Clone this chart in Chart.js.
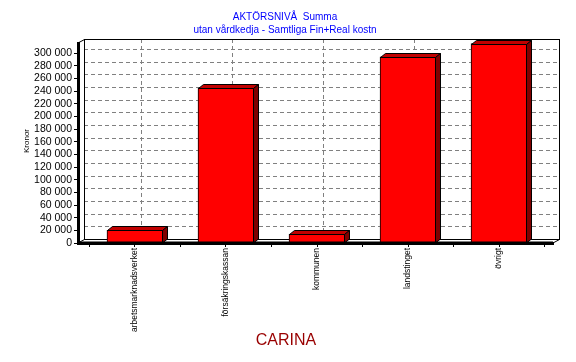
<!DOCTYPE html>
<html>
<head>
<meta charset="utf-8">
<script src="https://cdn.jsdelivr.net/npm/chart.js@4.4.0/dist/chart.umd.min.js"></script>
<style>
  html, body { margin: 0; padding: 0; background: #fff; }
</style>
</head>
<body>
<canvas id="chart" width="576" height="362"></canvas>
<script>
const titleLines = ['AKTÖRSNIVÅ  Summa', 'utan vårdkedja - Samtliga Fin+Real kostn'];
const footerText = 'CARINA';
const yAxisTitle = 'Kronor';
const categories = ['arbetsmarknadsverket', 'försäkringskassan', 'kommunen', 'landstinget', 'övrigt'];
const amounts = [20000, 245000, 14000, 294000, 315000];
const yMax = 316000;
const yStep = 20000;
const yLabelMax = 300000;

const FONT = "'Liberation Sans', Arial, sans-serif";

// back wall offset and bar depth
const wallDx = 6, wallDy = -4;
const barDx = 5, barDy = -4;

function line(ctx, x1, y1, x2, y2) {
    ctx.beginPath();
    ctx.moveTo(x1, y1);
    ctx.lineTo(x2, y2);
    ctx.stroke();
}

function poly(ctx, pts, fill) {
    ctx.beginPath();
    ctx.moveTo(pts[0][0], pts[0][1]);
    for (let i = 1; i < pts.length; i++) ctx.lineTo(pts[i][0], pts[i][1]);
    ctx.closePath();
    ctx.fillStyle = fill;
    ctx.fill();
    ctx.stroke();
}

function formatKr(v) {
    return String(v).replace(/\B(?=(\d{3})+(?!\d))/g, ' ');
}

const backWall = {
    id: 'backWall',
    beforeDatasetsDraw(chart) {
        const { ctx, chartArea: a, scales: { x, y } } = chart;
        ctx.save();
        ctx.lineWidth = 1;
        ctx.strokeStyle = '#808080';
        ctx.setLineDash([4, 3]);
        for (let v = yStep; v <= yLabelMax; v += yStep) {
            const py = Math.round(y.getPixelForValue(v) + wallDy) + 0.5;
            line(ctx, a.left + wallDx, py, a.right + wallDx, py);
        }
        categories.forEach((c, i) => {
            const px = Math.round(x.getPixelForValue(i + 1) + wallDx) + 0.5;
            line(ctx, px, a.top + wallDy, px, a.bottom + wallDy);
        });
        ctx.setLineDash([]);
        ctx.strokeStyle = '#000';
        const l = Math.round(a.left + wallDx) + 0.5, r = Math.round(a.right + wallDx) + 0.5;
        const t = Math.round(a.top + wallDy) + 0.5, b = Math.round(a.bottom + wallDy) + 0.5;
        ctx.strokeRect(l, t, r - l, b - t);
        line(ctx, a.left, a.top, l, t);
        line(ctx, a.left, a.bottom, l, b);
        line(ctx, a.right, a.bottom, r, b);
        ctx.restore();
    }
};

const bars3d = {
    id: 'bars3d',
    afterDatasetsDraw(chart) {
        const { ctx, chartArea: a } = chart;
        const meta = chart.getDatasetMeta(0);
        ctx.save();
        ctx.lineWidth = 1;
        ctx.strokeStyle = '#000';
        meta.data.forEach(bar => {
            const p = bar.getProps(['x', 'y', 'base', 'width'], true);
            const l = Math.round(p.x - p.width / 2) + 0.5;
            const r = Math.round(p.x + p.width / 2) - 0.5;
            const t = Math.round(p.y) + 0.5;
            const b = Math.round(p.base);
            poly(ctx, [[l, t], [l + barDx, t + barDy], [r + barDx, t + barDy], [r, t]], '#c00000');
            poly(ctx, [[r, t], [r + barDx, t + barDy], [r + barDx, b + barDy], [r, b]], '#800000');
        });
        // floor line over the bar bottoms
        ctx.lineWidth = 3;
        line(ctx, a.left - 1, a.bottom, a.right, a.bottom);
        ctx.restore();
    }
};

const texts = {
    id: 'texts',
    afterDraw(chart) {
        const { ctx } = chart;
        ctx.save();
        ctx.textAlign = 'center';
        ctx.textBaseline = 'middle';
        ctx.fillStyle = '#0000ff';
        ctx.font = '10px ' + FONT;
        ctx.fillText(titleLines[0], 285, 17);
        ctx.fillText(titleLines[1], 285, 30);

        ctx.fillStyle = '#990000';
        ctx.font = '16px ' + FONT;
        ctx.fillText(footerText, 286, 341);

        ctx.fillStyle = '#000';
        ctx.font = '8px ' + FONT;
        ctx.translate(27, 141);
        ctx.rotate(-Math.PI / 2);
        ctx.fillText(yAxisTitle, 0, 0);
        ctx.restore();
    }
};

const points = categories.map((c, i) => ({ x: i + 1, y: amounts[i] }));

new Chart(document.getElementById('chart'), {
    type: 'bar',
    data: {
        datasets: [{
            data: points,
            backgroundColor: '#ff0000',
            borderColor: '#000',
            borderWidth: 1,
            barThickness: 56
        }]
    },
    options: {
        responsive: false,
        animation: false,
        devicePixelRatio: 1,
        layout: { padding: { top: 43, right: 23, bottom: 0, left: 0 } },
        plugins: { legend: { display: false }, tooltip: { enabled: false } },
        scales: {
            x: {
                type: 'linear',
                offset: false,
                min: 0.374,
                max: 5.593,
                afterBuildTicks: scale => {
                    const t = [];
                    for (let v = 0.5; v <= 5.5; v += 0.5) t.push({ value: v });
                    scale.ticks = t;
                },
                afterFit: scale => { scale.height = 119; },
                border: { display: true, color: '#000', width: 3 },
                grid: { offset: false, drawOnChartArea: false, drawTicks: true, tickLength: 4, color: '#000' },
                ticks: {
                    autoSkip: false,
                    minRotation: 90,
                    maxRotation: 90,
                    padding: 1,
                    color: '#000',
                    font: { family: FONT, size: 8.5 },
                    callback: v => Number.isInteger(v) ? categories[v - 1] : ''
                }
            },
            y: {
                min: 0,
                max: yMax,
                afterBuildTicks: scale => {
                    const t = [];
                    for (let v = 0; v <= yLabelMax; v += yStep) t.push({ value: v });
                    scale.ticks = t;
                },
                afterFit: scale => { scale.width = 78; },
                border: { display: true, color: '#000', width: 3 },
                grid: { drawOnChartArea: false, drawTicks: true, tickLength: 4, color: '#000' },
                ticks: {
                    autoSkip: false,
                    padding: 2,
                    color: '#000',
                    font: { family: FONT, size: 10.5 },
                    callback: v => formatKr(v)
                }
            }
        }
    },
    plugins: [backWall, bars3d, texts]
});
</script>
</body>
</html>
